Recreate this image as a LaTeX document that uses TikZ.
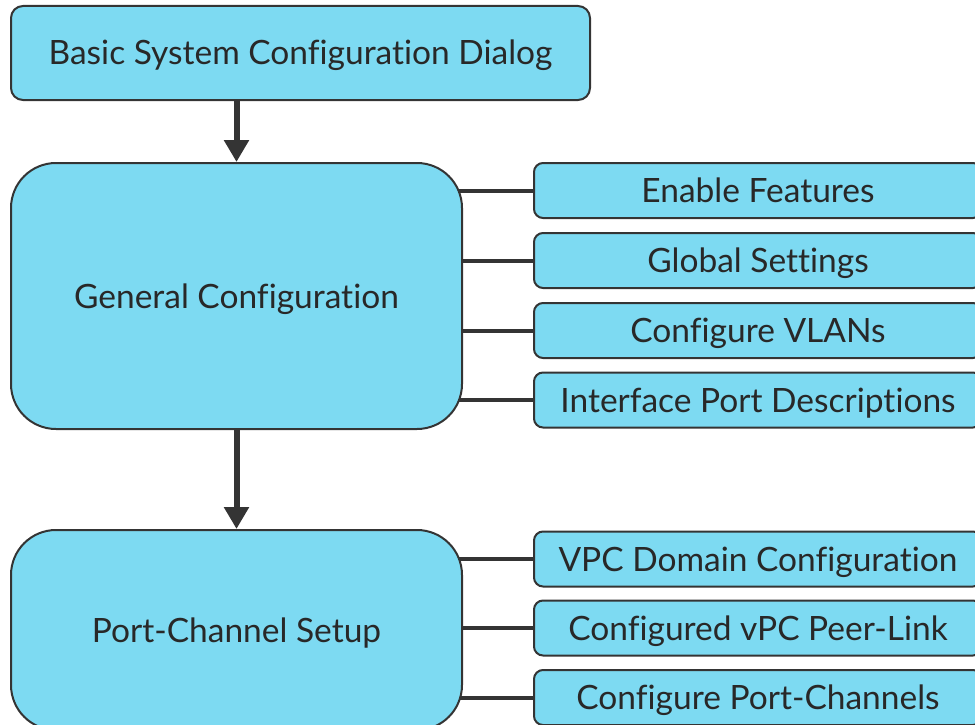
\documentclass[tikz,border=0pt]{standalone}
\usepackage{fontspec}
\setmainfont{Lato}[Ligatures={NoCommon}]
\usetikzlibrary{arrows.meta,backgrounds}
\definecolor{boxfill}{RGB}{125,218,242}
\definecolor{edge}{RGB}{52,52,52}
\definecolor{ink}{RGB}{40,40,40}
\begin{document}
\begin{tikzpicture}[x=1pt,y=-1pt,
  box/.style={draw=edge, line width=2pt, fill=boxfill, text=ink, inner sep=0pt,
    font=\fontsize{33.5}{40}\selectfont, text height=24pt, text depth=0pt},
  topbox/.style={box, minimum width=579pt, minimum height=94pt, rounded corners=12pt},
  bigbox/.style={box, minimum width=451pt, rounded corners=45pt},
  subbox/.style={box, minimum width=448pt, minimum height=55pt, rounded corners=9pt},
  flow/.style={draw=edge, line width=6pt, -{Triangle[width=24pt,length=22pt]}},
  link/.style={draw=edge, line width=4pt}]
\useasboundingbox (0,0) rectangle (975,725);
\clip (0,0) rectangle (975,725);

% main column
\node[topbox] (dialog) at (300.5,53) {Basic System Configuration Dialog};
\node[bigbox, minimum height=266pt] (general) at (236.5,296) {General Configuration};
\node[bigbox, minimum height=200pt] (portch) at (236.5,630) {Port-Channel Setup};

% tasks of the general configuration
\node[subbox] (feat) at (758,190.5) {Enable Features};
\node[subbox] (glob) at (758,260.5) {Global Settings};
\node[subbox] (vlan) at (758,330.5) {Configure VLANs};
\node[subbox] (desc) at (758,400) {Interface Port Descriptions};

% tasks of the port-channel setup
\node[subbox] (vpcdom) at (758,559) {VPC Domain Configuration};
\node[subbox] (peer) at (758,628) {Configured vPC Peer-Link};
\node[subbox] (pchan) at (758,697.5) {Configure Port-Channels};

% workflow arrows
\draw[flow] (dialog.south -| general.north) -- (general.north);
\draw[flow] (general.south) -- (portch.north);

% branch lines, kept behind the boxes
\begin{scope}[on background layer]
  \foreach \t in {feat,glob,vlan,desc}
    \draw[link] (general.center |- \t.west) -- (\t.west);
  \foreach \t in {vpcdom,peer,pchan}
    \draw[link] (portch.center |- \t.west) -- (\t.west);
\end{scope}
\end{tikzpicture}
\end{document}
